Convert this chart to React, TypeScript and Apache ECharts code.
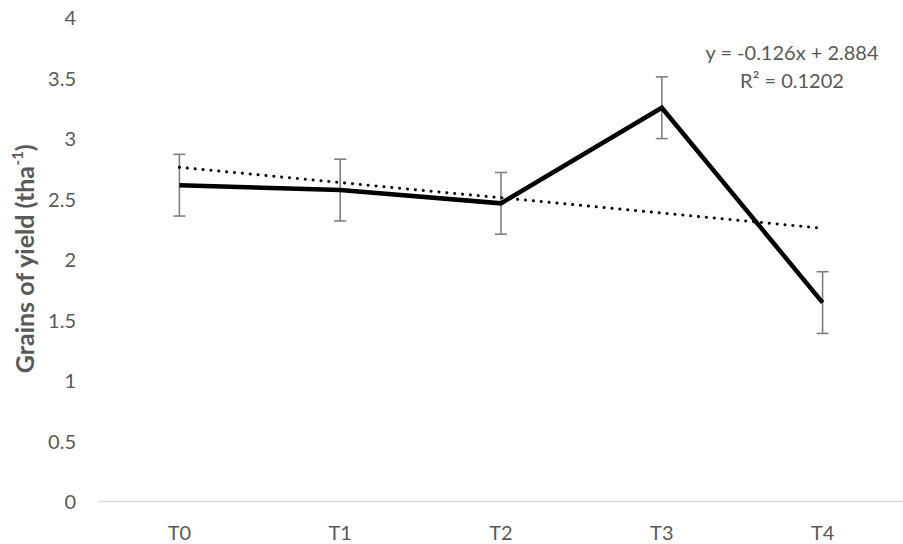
import React, { useEffect, useRef } from "react";
import * as echarts from "echarts";

// Treatments and grain yield (t/ha) with their error margins
const treatments = ["T0", "T1", "T2", "T3", "T4"];
const grainYield = [2.61, 2.57, 2.46, 3.25, 1.64];
const yieldError = [0.255, 0.255, 0.255, 0.255, 0.255];
const yTicks = { min: 0, max: 4, interval: 0.5 };

// Ordinary least-squares fit over x = 1..n (Excel-style linear trendline)
function linearFit(values: number[]) {
  const n = values.length;
  const xs = values.map((_, i) => i + 1);
  const mx = xs.reduce((a, b) => a + b, 0) / n;
  const my = values.reduce((a, b) => a + b, 0) / n;
  let sxy = 0;
  let sxx = 0;
  let syy = 0;
  for (let i = 0; i < n; i++) {
    sxy += (xs[i] - mx) * (values[i] - my);
    sxx += (xs[i] - mx) ** 2;
    syy += (values[i] - my) ** 2;
  }
  const slope = sxy / sxx;
  const intercept = my - slope * mx;
  const r2 = (sxy * sxy) / (sxx * syy);
  return { slope, intercept, r2, fitted: xs.map((x) => intercept + slope * x) };
}

const FONT = "Lato, 'Open Sans', sans-serif";
const TEXT_GREY = "#595959";

export default function App() {
  const ref = useRef<HTMLDivElement>(null);

  useEffect(() => {
    if (!ref.current) return;
    const chart = echarts.init(ref.current, undefined, { renderer: "svg" });
    const fit = linearFit(grainYield);
    const sign = fit.intercept >= 0 ? "+" : "-";
    const eqText = `y = ${fit.slope.toFixed(3)}x ${sign} ${Math.abs(fit.intercept).toFixed(3)}`;
    const r2Text = `R² = ${fit.r2.toFixed(4)}`;

    chart.setOption({
      animation: false,
      backgroundColor: "#ffffff",
      textStyle: { fontFamily: FONT },
      grid: { left: 99, right: 0, top: 17, bottom: 43, containLabel: false },
      xAxis: {
        type: "category",
        data: treatments,
        boundaryGap: true,
        axisLine: { show: true, lineStyle: { color: "#d9d9d9", width: 1.3 } },
        axisTick: { show: false },
        splitLine: { show: false },
        axisLabel: { color: TEXT_GREY, fontSize: 20, fontFamily: FONT, margin: 21 },
      },
      yAxis: {
        type: "value",
        min: yTicks.min,
        max: yTicks.max,
        interval: yTicks.interval,
        axisLine: { show: false },
        axisTick: { show: false },
        splitLine: { show: false },
        axisLabel: { color: TEXT_GREY, fontSize: 20, fontFamily: FONT, margin: 23 },
        name: "{t|Grains of yield (tha}{s|-1}{t|)}",
        nameLocation: "middle",
        nameRotate: 90,
        nameGap: 60,
        nameTextStyle: {
          rich: {
            t: { fontSize: 25, fontWeight: "bold", color: TEXT_GREY, fontFamily: FONT, lineHeight: 30 },
            s: { fontSize: 15, fontWeight: "bold", color: TEXT_GREY, fontFamily: FONT, verticalAlign: "top", lineHeight: 16 },
          },
        },
      },
      series: [
        {
          type: "custom",
          name: "error",
          z: 1,
          data: grainYield.map((v, i) => [i, v, yieldError[i]]),
          renderItem: (params: any, api: any) => {
            const x = api.value(0);
            const y = api.value(1);
            const e = api.value(2);
            const top = api.coord([x, y + e]);
            const bot = api.coord([x, y - e]);
            const half = 6;
            const style = { stroke: "#7f7f7f", lineWidth: 1.6 };
            return {
              type: "group",
              children: [
                { type: "line", shape: { x1: top[0], y1: top[1], x2: bot[0], y2: bot[1] }, style },
                { type: "line", shape: { x1: top[0] - half, y1: top[1], x2: top[0] + half, y2: top[1] }, style },
                { type: "line", shape: { x1: bot[0] - half, y1: bot[1], x2: bot[0] + half, y2: bot[1] }, style },
              ],
            };
          },
        },
        {
          type: "line",
          name: "trend",
          z: 2,
          data: fit.fitted,
          showSymbol: false,
          symbol: "none",
          lineStyle: { color: "#000000", width: 3, type: [0.1, 7.8], cap: "round" },
        },
        {
          type: "line",
          name: "yield",
          z: 3,
          data: grainYield,
          showSymbol: false,
          symbol: "none",
          lineStyle: { color: "#000000", width: 4.5, join: "miter" },
        },
      ],
      graphic: [
        {
          type: "text",
          x: 792,
          y: 52,
          style: { text: eqText, fill: TEXT_GREY, fontSize: 20, fontFamily: FONT, align: "center", verticalAlign: "middle" },
        },
        {
          type: "text",
          x: 792,
          y: 80,
          style: { text: r2Text, fill: TEXT_GREY, fontSize: 20, fontFamily: FONT, align: "center", verticalAlign: "middle" },
        },
      ],
    });
    return () => chart.dispose();
  }, []);

  return <div ref={ref} style={{ width: 903, height: 544, position: "absolute", left: 0, top: 0 }} />;
}
